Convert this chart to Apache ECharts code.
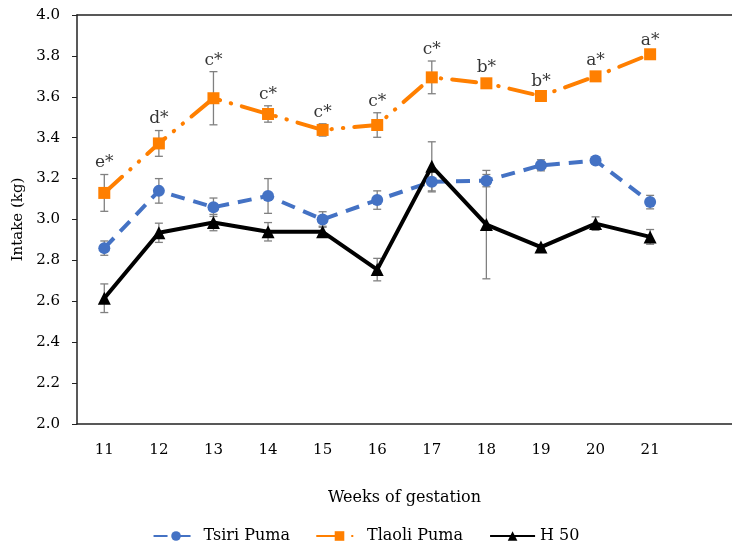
<!DOCTYPE html>
<html>
<head>
<meta charset="utf-8">
<script src="https://cdn.jsdelivr.net/npm/echarts@6/dist/echarts.min.js"></script>
<style>
  html, body { margin: 0; padding: 0; background: #fff; }
  #chart { width: 732px; height: 549px; }
</style>
</head>
<body>
<div id="chart"></div>
<script>
// weeks of gestation (last slot is empty, as in the original plot)
var weeks = ['11', '12', '13', '14', '15', '16', '17', '18', '19', '20', '21', ''];

var tsiri = [2.86, 3.14, 3.06, 3.115, 3.0, 3.095, 3.185, 3.19, 3.265, 3.288, 3.085];
var tsiriErr = [0.035, 0.06, 0.045, 0.085, 0.038, 0.045, 0.05, 0.03, 0.027, 0.012, 0.033];

var tlaoli = [3.13, 3.372, 3.593, 3.516, 3.438, 3.462, 3.695, 3.666, 3.604, 3.70, 3.808];
var tlaoliErr = [0.09, 0.063, 0.13, 0.04, 0.03, 0.06, 0.08, 0.02, 0.015, 0.02, 0.01];

var h50 = [2.615, 2.935, 2.985, 2.94, 2.94, 2.755, 3.26, 2.975, 2.865, 2.98, 2.915];
var h50Err = [0.07, 0.047, 0.04, 0.045, 0.027, 0.055, 0.12, 0.265, 0.01, 0.033, 0.036];

var letters = ['e*', 'd*', 'c*', 'c*', 'c*', 'c*', 'c*', 'b*', 'b*', 'a*', 'a*'];

var serif = 'DejaVu Serif';

function errData(vals, errs) {
  var out = [];
  for (var i = 0; i < vals.length; i++) {
    out.push([i, vals[i] - errs[i], vals[i] + errs[i]]);
  }
  return out;
}

function errSeries(vals, errs) {
  return {
    type: 'custom',
    z: 3,
    silent: true,
    data: errData(vals, errs),
    renderItem: function (params, api) {
      var x = api.value(0);
      var top = api.coord([x, api.value(2)]);
      var bot = api.coord([x, api.value(1)]);
      var w = 4;
      var st = { stroke: '#808080', lineWidth: 1.3 };
      return {
        type: 'group',
        children: [
          { type: 'line', shape: { x1: top[0], y1: top[1], x2: bot[0], y2: bot[1] }, style: st },
          { type: 'line', shape: { x1: top[0] - w, y1: top[1], x2: top[0] + w, y2: top[1] }, style: st },
          { type: 'line', shape: { x1: bot[0] - w, y1: bot[1], x2: bot[0] + w, y2: bot[1] }, style: st }
        ]
      };
    }
  };
}

var labelPos = [];
for (var i = 0; i < tlaoli.length; i++) {
  labelPos.push(+(tlaoli[i] + tlaoliErr[i]).toFixed(3));
}

var myChart = echarts.init(document.getElementById('chart'));

var option = {
  animation: false,
  grid: { left: 77, right: -12, top: 15, bottom: 125 },
  legend: {
    data: ['Tsiri Puma', 'Tlaoli Puma', 'H 50'],
    bottom: 0,
    left: 'center',
    itemWidth: 45,
    itemHeight: 12,
    itemGap: 26,
    textStyle: { fontFamily: serif, fontSize: 16, color: '#000' }
  },
  xAxis: [{
    type: 'category',
    data: weeks,
    name: 'Weeks of gestation',
    nameLocation: 'middle',
    nameGap: 66,
    nameTextStyle: { fontFamily: serif, fontSize: 16, color: '#000' },
    axisLine: { lineStyle: { color: '#222', width: 1.5 } },
    axisTick: { length: 5, lineStyle: { color: '#222' } },
    axisLabel: { margin: 19, fontFamily: serif, fontSize: 15, color: '#000' },
    splitLine: { show: false }
  }, {
    type: 'category',
    data: weeks,
    position: 'top',
    axisLine: { lineStyle: { color: '#222', width: 1.5 } },
    axisTick: { show: false },
    axisLabel: { show: false }
  }],
  yAxis: {
    type: 'value',
    min: 2.0,
    max: 4.0,
    interval: 0.2,
    name: 'Intake (kg)',
    nameLocation: 'middle',
    nameGap: 46,
    nameTextStyle: { fontFamily: serif, fontSize: 15, color: '#000' },
    axisLine: { show: true, lineStyle: { color: '#222', width: 1.5 } },
    axisTick: { show: true, length: 5, lineStyle: { color: '#222' } },
    axisLabel: {
      margin: 17, fontFamily: serif, fontSize: 15, color: '#000',
      formatter: function (v) { return v.toFixed(1); }
    },
    splitLine: { show: false }
  },
  series: [
    errSeries(tsiri, tsiriErr),
    errSeries(tlaoli, tlaoliErr),
    errSeries(h50, h50Err),
    {
      name: 'Tsiri Puma',
      type: 'line',
      data: tsiri,
      z: 4,
      symbol: 'circle',
      symbolSize: 12,
      itemStyle: { color: '#4472C4' },
      lineStyle: { color: '#4472C4', width: 4, type: [14, 9] }
    },
    {
      name: 'Tlaoli Puma',
      type: 'line',
      data: tlaoli,
      z: 4,
      symbol: 'rect',
      symbolSize: 12,
      itemStyle: { color: '#FF7F00' },
      lineStyle: { color: '#FF7F00', width: 4, type: [24, 11, 0.5, 11, 0.5, 11], cap: 'round' }
    },
    {
      name: 'H 50',
      type: 'line',
      data: h50,
      z: 4,
      symbol: 'triangle',
      symbolSize: 13,
      itemStyle: { color: '#000' },
      lineStyle: { color: '#000', width: 4 }
    },
    {
      name: 'letters',
      type: 'scatter',
      data: labelPos,
      symbolSize: 0,
      silent: true,
      label: {
        show: true,
        position: 'top',
        distance: 3,
        fontFamily: serif,
        fontSize: 17,
        color: '#000',
        formatter: function (p) { return letters[p.dataIndex]; }
      }
    }
  ]
};

myChart.setOption(option);
</script>
</body>
</html>
